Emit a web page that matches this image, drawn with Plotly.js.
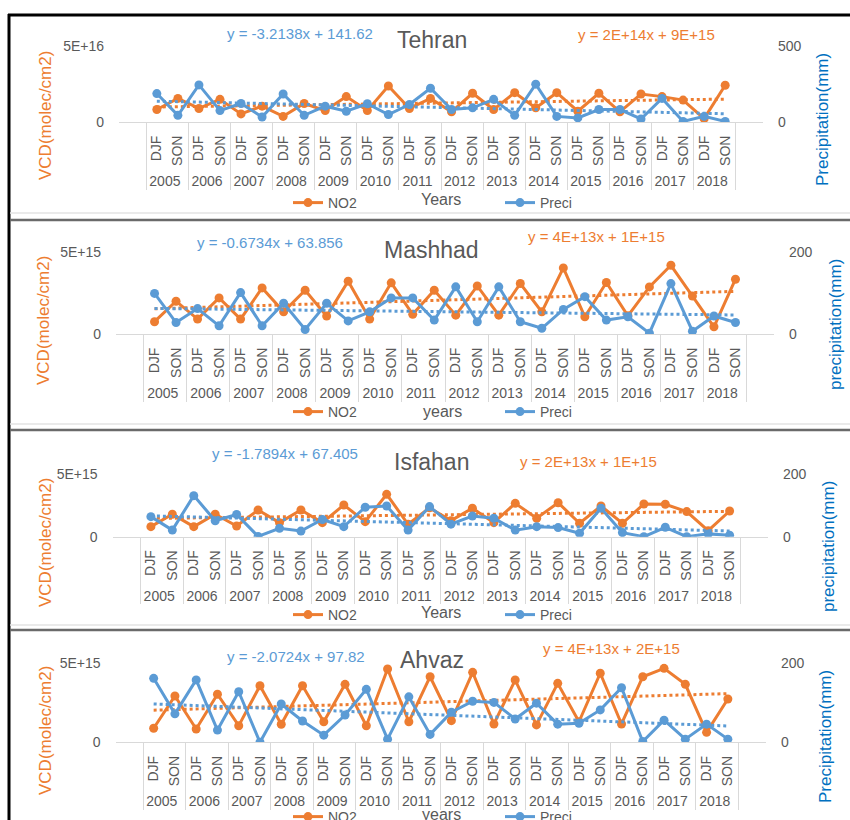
<!DOCTYPE html>
<html><head><meta charset="utf-8">
<script src="https://cdn.plot.ly/plotly-3.0.1.min.js"></script>
<style>html,body{margin:0;padding:0;background:#fff;overflow:hidden}#chart{width:850px;height:820px;display:block}</style>
</head><body><div id="chart"></div>
<script>
// ---------- DATA ----------
const years = ['2005','2006','2007','2008','2009','2010','2011','2012','2013','2014','2015','2016','2017','2018'];
const seasons = ['DJF','SON'];
const cities = ['Tehran','Mashhad','Isfahan','Ahvaz'];

// NO2 VCD (molec/cm2), DJF/SON per year
const tehranNO2  = [8.2e15,15.5e15,8.9e15,14.9e15,5.3e15,10.4e15,3.7e15,12.2e15,7.5e15,16.7e15,7.5e15,23.7e15,8.9e15,15.5e15,6.7e15,18.9e15,8.2e15,19.3e15,9.3e15,19.3e15,7.1e15,18.9e15,6.7e15,18.4e15,16.7e15,14.4e15,2.2e15,24.2e15];
const mashhadNO2 = [0.75e15,2.0e15,0.91e15,2.2e15,0.91e15,2.81e15,1.35e15,2.67e15,1.09e15,3.22e15,0.91e15,3.12e15,1.2e15,2.67e15,1.15e15,2.93e15,1.15e15,3.08e15,1.35e15,4.03e15,1.05e15,3.14e15,1.11e15,2.87e15,4.19e15,2.31e15,0.44e15,3.34e15];
const isfahanNO2 = [0.80e15,1.79e15,0.80e15,1.79e15,0.85e15,2.13e15,1.12e15,2.13e15,1.12e15,2.53e15,1.2e15,3.38e15,0.99e15,2.3e15,1.28e15,2.27e15,1.12e15,2.66e15,1.47e15,2.71e15,1.07e15,2.45e15,1.07e15,2.61e15,2.59e15,2.0e15,0.48e15,2.05e15];
const ahvazNO2   = [0.89e15,2.93e15,0.84e15,3.04e15,1.05e15,3.58e15,1.14e15,3.58e15,1.3e15,3.67e15,1.05e15,4.64e15,1.3e15,4.15e15,1.37e15,4.43e15,1.16e15,3.94e15,1.1e15,3.73e15,1.3e15,4.37e15,1.16e15,4.15e15,4.68e15,3.67e15,0.63e15,2.74e15];

// Precipitation (mm)
const tehranPreci  = [187,44,244,75,122,33,184,44,104,71,120,49,115,222,82,93,149,44,249,37,27,82,82,20,155,4,37,4];
const mashhadPreci = [99,28,62,20,101,20,75,11,75,32,54,88,88,34,115,30,115,30,14,60,91,34,42,2,123,7,44,28];
const isfahanPreci = [64,21,131,51,71,1,27,18,55,32,94,98,21,96,40,66,59,21,32,29,11,91,13,0,30,0,9,5];
const ahvazPreci   = [162,72,158,31,128,0,97,54,18,69,134,8,115,20,76,104,101,59,99,46,48,82,138,2,56,8,46,8];

const no2Series = [tehranNO2, mashhadNO2, isfahanNO2, ahvazNO2];
const preciSeries = [tehranPreci, mashhadPreci, isfahanPreci, ahvazPreci];

const leftMax = [5e16, 5e15, 5e15, 5e15];
const leftTickText = [['0','5E+16'],['0','5E+15'],['0','5E+15'],['0','5E+15']];
const rightMax = [500, 200, 200, 200];
const rightTickText = [['0','500'],['0','200'],['0','200'],['0','200']];

const preciEq = ['y = -3.2138x + 141.62','y = -0.6734x + 63.856','y = -1.7894x + 67.405','y = -2.0724x + 97.82'];
const no2Eq = ['y = 2E+14x + 9E+15','y = 4E+13x + 1E+15','y = 2E+13x + 1E+15','y = 4E+13x + 2E+15'];
const leftTitles = ['VCD(molec/cm2)','VCD(molec/cm2)','VCD(molec/cm2)','VCD(molec/cm2)'];
const rightTitles = ['Precipitation(mm)','precipitation(mm)','precipitation(mm)','Precipitation(mm)'];
const xTitles = ['Years','years','Years','years'];
const seriesNames = ['NO2','Preci'];

// ---------- LAYOUT GEOMETRY (pixels) ----------
const W = 850, H = 820;
const px = v => v / W;
const py = v => 1 - v / H;
const geom = [
  {x0:119,  x1:763, y0:46,    y1:122,   title:[432,40],  eqB:[300,33],  eqO:[646,34],  yl:[45,116], yr:[822,120], xt:[441,199], leg:203},
  {x0:116,  x1:774, y0:252,   y1:334,   title:[432,250], eqB:[270,242], eqO:[596,236], yl:[43,321], yr:[835,325], xt:[442,411], leg:412},
  {x0:112.5,x1:768, y0:474,   y1:536.7, title:[432,462], eqB:[285,453], eqO:[588,462], yl:[45,543], yr:[828,547], xt:[441,612], leg:615},
  {x0:115.5,x1:766, y0:663.3, y1:742.3, title:[432,660], eqB:[296,656], eqO:[611,648], yl:[45,731], yr:[825,737], xt:[441,814], leg:817}
];

const ORANGE = '#ED7D31', BLUE = '#5B9BD5', BLUE_T = '#0070C0', GRAY = '#595959', GRID = '#d9d9d9';
const FONT = 'Liberation Sans, Arial, sans-serif';

const xOuter = years.flatMap(y => [y, y]);
const xInner = years.flatMap(() => seasons);

function trend(vals) {
  const n = vals.length;
  let sx = 0, sy = 0, sxx = 0, sxy = 0;
  vals.forEach((v, i) => { const x = i + 1; sx += x; sy += v; sxx += x * x; sxy += x * v; });
  const a = (n * sxy - sx * sy) / (n * sxx - sx * sx);
  const b = (sy - a * sx) / n;
  return vals.map((v, i) => a * (i + 1) + b);
}

const traces = [];
const layout = {
  width: W, height: H, autosize: false, margin: {l:0, r:0, t:0, b:0, pad:0, autoexpand:false},
  paper_bgcolor: '#fff', plot_bgcolor: 'rgba(0,0,0,0)',
  font: {family: FONT, color: GRAY},
  annotations: [], shapes: [], hovermode: false
};

geom.forEach((g, i) => {
  const xa = 'x' + (i + 1);
  const yl = 'y' + (2 * i + 1);
  const yr = 'y' + (2 * i + 2);
  const legA = 'legend' + (2 * i === 0 ? '' : (2 * i + 1));
  const legB = 'legend' + (2 * i + 2);
  const xKey = 'xaxis' + (i + 1);
  const ylKey = 'yaxis' + (2 * i + 1);
  const yrKey = 'yaxis' + (2 * i + 2);
  const xv = [xOuter, xInner];

  traces.push({type:'scatter', mode:'lines+markers', name: seriesNames[0], x: xv, y: no2Series[i],
    xaxis: xa, yaxis: yl, legend: legA,
    line:{color:ORANGE, width:3}, marker:{color:ORANGE, size:9}});
  traces.push({type:'scatter', mode:'lines', x: xv, y: trend(no2Series[i]), showlegend:false,
    xaxis: xa, yaxis: yl, line:{color:ORANGE, width:3, dash:'dot'}});
  traces.push({type:'scatter', mode:'lines+markers', name: seriesNames[1], x: xv, y: preciSeries[i],
    xaxis: xa, yaxis: yr, legend: legB,
    line:{color:BLUE, width:3}, marker:{color:BLUE, size:9}});
  traces.push({type:'scatter', mode:'lines', x: xv, y: trend(preciSeries[i]), showlegend:false,
    xaxis: xa, yaxis: yr, line:{color:BLUE, width:3, dash:'dot'}});

  layout[xKey] = {
    type:'multicategory', domain:[px(g.x0), px(g.x1)], anchor: yl,
    showline:true, linecolor:GRID, linewidth:1, showgrid:false, zeroline:false,
    ticks:'', tickangle:-90, tickfont:{size:14, color:GRAY, family:FONT},
    ticklabelstandoff: 7, automargin:false,
    showdividers:true, dividercolor:GRID, dividerwidth:1
  };
  layout[ylKey] = {
    domain:[py(g.y1), py(g.y0)], anchor: xa, range:[0, leftMax[i]],
    tickvals:[0, leftMax[i]], ticktext: leftTickText[i],
    showgrid:true, gridcolor:GRID, gridwidth:1, zeroline:false, showline:false, ticks:'',
    ticklabelstandoff: 14, automargin:false, tickfont:{size:14, color:GRAY, family:FONT}
  };
  layout[yrKey] = {
    overlaying: yl, side:'right', anchor: xa, range:[0, rightMax[i]],
    tickvals:[0, rightMax[i]], ticktext: rightTickText[i],
    showgrid:false, zeroline:false, showline:false, ticks:'',
    ticklabelstandoff: 14, automargin:false, tickfont:{size:14, color:GRAY, family:FONT}
  };

  const legBase = {orientation:'h', xanchor:'left', yanchor:'middle', bgcolor:'rgba(0,0,0,0)',
    borderwidth:0, font:{size:14, color:GRAY, family:FONT}};
  layout[legA] = Object.assign({x: px(288), y: py(g.leg)}, legBase);
  layout[legB] = Object.assign({x: px(500), y: py(g.leg)}, legBase);

  const A = layout.annotations;
  A.push({xref:'paper', yref:'paper', x:px(g.title[0]), y:py(g.title[1]), text:cities[i], showarrow:false,
    xanchor:'center', yanchor:'middle', font:{size:23, color:GRAY, family:FONT}});
  A.push({xref:'paper', yref:'paper', x:px(g.eqB[0]), y:py(g.eqB[1]), text:preciEq[i], showarrow:false,
    xanchor:'center', yanchor:'middle', font:{size:15, color:BLUE, family:FONT}});
  A.push({xref:'paper', yref:'paper', x:px(g.eqO[0]), y:py(g.eqO[1]), text:no2Eq[i], showarrow:false,
    xanchor:'center', yanchor:'middle', font:{size:15, color:ORANGE, family:FONT}});
  A.push({xref:'paper', yref:'paper', x:px(g.yl[0]), y:py(g.yl[1]), text:leftTitles[i], showarrow:false,
    textangle:-90, xanchor:'center', yanchor:'middle', font:{size:17, color:ORANGE, family:FONT}});
  A.push({xref:'paper', yref:'paper', x:px(g.yr[0]), y:py(g.yr[1]), text:rightTitles[i], showarrow:false,
    textangle:-90, xanchor:'center', yanchor:'middle', font:{size:17, color:BLUE_T, family:FONT}});
  A.push({xref:'paper', yref:'paper', x:px(g.xt[0]), y:py(g.xt[1]), text:xTitles[i], showarrow:false,
    xanchor:'center', yanchor:'middle', font:{size:16, color:GRAY, family:FONT}});
});

// frame lines
const S = layout.shapes;
S.push({type:'line', xref:'paper', yref:'paper', x0:px(8), x1:1, y0:py(15), y1:py(15), line:{color:'#000', width:3}});
S.push({type:'line', xref:'paper', yref:'paper', x0:px(9), x1:px(9), y0:py(14), y1:0, line:{color:'#000', width:3}});
[213, 424, 625].forEach(y => S.push({type:'line', xref:'paper', yref:'paper', x0:px(10), x1:1, y0:py(y), y1:py(y), line:{color:'#e3e3e3', width:1.5}}));
[220, 430, 630].forEach(y => S.push({type:'line', xref:'paper', yref:'paper', x0:px(10), x1:1, y0:py(y), y1:py(y), line:{color:'#6a6a6a', width:2.5}}));

Plotly.newPlot('chart', traces, layout, {displayModeBar:false, staticPlot:true});
</script>
</body></html>
